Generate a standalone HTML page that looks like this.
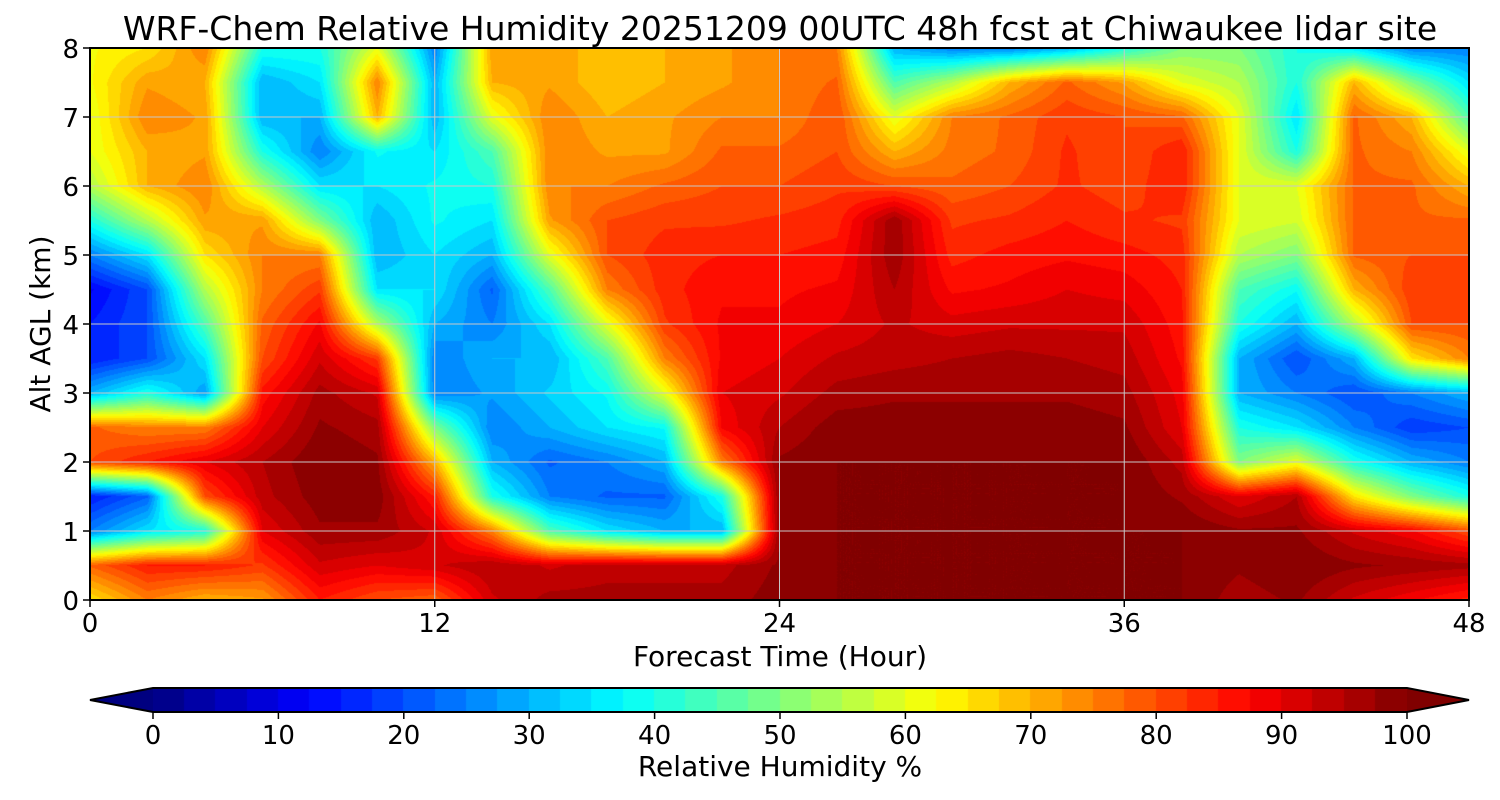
<!DOCTYPE html>
<html><head><meta charset="utf-8">
<style>
body{margin:0;background:#fff;width:1500px;height:800px;overflow:hidden;font-family:"DejaVu Sans","Liberation Sans",sans-serif;}
#wrap{position:relative;width:1500px;height:800px;}
canvas{position:absolute;}
svg{position:absolute;left:0;top:0;}
</style></head>
<body>
<div id="wrap">
<canvas id="plot" width="1379" height="552" style="left:90px;top:48px"></canvas>
<canvas id="cbar" width="1254" height="24" style="left:153px;top:688px"></canvas>
<svg id="svg" width="1500" height="800"></svg>
</div>
<script>
// ---- data ----
const times = [0,2,4,6,8,10,12,14,16,18,20,22,24,26,28,30,32,34,36,38,40,42,44,46,48];
const alts = [0,0.5,1,1.5,2,2.5,3,3.5,4,4.5,5,5.5,6,6.5,7,7.5,8];
// rh[column for each time] = values from alt 0 to 8
const rh = [
[65,78,25,15,80,78,30,15,15,12,25,40,55,60,60,62,62],
[75,85,35,22,85,75,40,20,20,20,35,55,70,70,75,72,65],
[70,85,40,80,90,75,28,35,45,55,65,72,75,72,72,70,75],
[72,82,90,94,95,90,86,80,78,75,75,72,55,40,30,30,40],
[85,92,97,99,100,98,96,92,88,82,75,50,35,25,30,35,40],
[80,90,97,99,98,96,92,82,55,35,30,30,35,38,70,75,60],
[78,92,92,85,70,50,25,25,30,35,35,38,38,35,30,30,25],
[92,95,75,40,30,25,28,30,25,22,30,35,40,45,60,70,72],
[96,92,45,25,22,30,33,30,35,45,60,72,75,75,75,72,72],
[96,94,35,22,25,35,38,45,60,75,80,80,75,72,70,68,68],
[96,94,30,22,30,38,60,75,82,84,84,82,78,72,72,70,70],
[96,94,30,40,75,88,90,88,88,87,85,82,80,78,75,72,72],
[99,98,98,98,98,95,92,90,88,87,85,83,80,78,75,75,75],
[100,100,100,100,100,99,96,93,90,88,86,84,82,80,80,78,75],
[100,100,100,100,100,99,97,94,93,95,97,97,80,70,60,45,30],
[100,100,100,100,100,99,97,95,91,87,84,82,78,76,75,55,25],
[100,100,100,100,100,99,97,96,92,88,86,83,80,78,78,70,25],
[100,100,100,100,100,99,97,95,92,90,87,85,83,83,82,78,30],
[100,100,100,100,100,98,96,94,92,89,86,83,81,80,80,72,40],
[100,100,100,97,94,90,89,87,86,85,84,82,85,85,78,60,50],
[96,98,98,90,50,40,30,30,40,45,55,60,60,60,60,55,50],
[98,100,98,95,60,35,25,20,30,38,50,58,60,40,35,40,40],
[92,98,92,65,40,25,20,30,55,70,78,78,78,78,78,70,35],
[88,97,88,50,30,18,25,65,80,82,80,78,78,75,70,50,25],
[84,96,80,40,25,20,30,75,80,82,80,78,70,60,45,35,25]
];
const xTicks = [0,12,24,36,48];
const yTicks = [0,1,2,3,4,5,6,7,8];
const cbTicks = [0,10,20,30,40,50,60,70,80,90,100];

// ---- geometry ----
const PX=90, PY=48, PW=1379, PH=552;
const xS = t => PX + (t-0)/(48-0)*PW;
const yS = a => PY + PH - (a-0)/(8-0)*PH;
const CBX=153, CBW=1254;
const cS = v => CBX + v/100*CBW;

function jet(v){
  const x=Math.max(0,Math.min(1,v/100));
  const c=f=>Math.round(255*Math.max(0,Math.min(1,f)));
  return [c(1.5-Math.abs(4*x-3)), c(1.5-Math.abs(4*x-2)), c(1.5-Math.abs(4*x-1))];
}
function q(v){ return Math.min(100,Math.floor(v/2.5)*2.5+1.25); }

function valAt(t,a){
  let i=0; while(i<times.length-2 && t>times[i+1]) i++;
  let j=0; while(j<alts.length-2 && a>alts[j+1]) j++;
  const fx=(t-times[i])/(times[i+1]-times[i]);
  const fy=(a-alts[j])/(alts[j+1]-alts[j]);
  const v00=rh[i][j],v10=rh[i+1][j],v01=rh[i][j+1],v11=rh[i+1][j+1];
  return v00*(1-fx)*(1-fy)+v10*fx*(1-fy)+v01*(1-fx)*fy+v11*fx*fy;
}
const pc=document.getElementById('plot').getContext('2d');
const img=pc.createImageData(PW,PH);
for(let py=0;py<PH;py++){
  const a=8*(1-(py+0.5)/PH);
  for(let px=0;px<PW;px++){
    const t=48*(px+0.5)/PW;
    const col=jet(q(valAt(t,a)));
    const k=(py*PW+px)*4;
    img.data[k]=col[0];img.data[k+1]=col[1];img.data[k+2]=col[2];img.data[k+3]=255;
  }
}
pc.putImageData(img,0,0);

const cc=document.getElementById('cbar').getContext('2d');
for(let v=0;v<100;v+=2.5){
  const col=jet(v+1.25);
  cc.fillStyle=`rgb(${col})`;
  cc.fillRect(Math.floor(v/100*CBW),0,Math.ceil(2.5/100*CBW)+1,24);
}

// ---- svg overlay ----
const svg=document.getElementById('svg');
const NS='http://www.w3.org/2000/svg';
function mk(tag,attrs,parent){const e=document.createElementNS(NS,tag);for(const k in attrs)e.setAttribute(k,attrs[k]);(parent||svg).appendChild(e);return e;}
function txt(x,y,s,size,anchor,name){
  const e=mk('text',{x:x,y:y,'font-size':size,'text-anchor':anchor||'middle',fill:'#000','font-family':'DejaVu Sans, Liberation Sans, sans-serif'});
  e.textContent=s;
  
  
  return e;
}
xTicks.forEach(t=>{
  const l=mk('line',{x1:xS(t),x2:xS(t),y1:PY,y2:PY+PH,stroke:'#c8c8c8','stroke-width':1});
  
  
  const tk=mk('line',{x1:xS(t),x2:xS(t),y1:PY+PH,y2:PY+PH+7,stroke:'#000','stroke-width':1.5});
  
  
  txt(xS(t),PY+PH+32,String(t),26,'middle','x-tick-label');
});
yTicks.forEach(a=>{
  const l=mk('line',{x1:PX,x2:PX+PW,y1:yS(a),y2:yS(a),stroke:'#c8c8c8','stroke-width':1});
  
  
  const tk=mk('line',{x1:PX-7,x2:PX,y1:yS(a),y2:yS(a),stroke:'#000','stroke-width':1.5});
  
  
  txt(PX-11,yS(a)+10,String(a),26,'end','y-tick-label');
});
const fr=mk('rect',{x:PX,y:PY,width:PW,height:PH,fill:'none',stroke:'#000','stroke-width':2});


txt(780,40,'WRF-Chem Relative Humidity 20251209 00UTC 48h fcst at Chiwaukee lidar site',33,'middle','chart-title');
txt(780,666,'Forecast Time (Hour)',28,'middle','x-axis-title');
const yt=txt(0,0,'Alt AGL (km)',28,'middle','y-axis-title');
yt.setAttribute('transform','translate(50,324) rotate(-90)');

const lo=jet(0), hi=jet(100);
const e1=mk('polygon',{points:`${CBX},688 ${CBX},712 90,700`,fill:`rgb(${lo})`});


const e2=mk('polygon',{points:`${CBX+CBW},688 ${CBX+CBW},712 1469,700`,fill:`rgb(${hi})`});


const ol=mk('polygon',{points:`90,700 ${CBX},688 ${CBX+CBW},688 1469,700 ${CBX+CBW},712 ${CBX},712`,fill:'none',stroke:'#000','stroke-width':2});


cbTicks.forEach(v=>{
  const tk=mk('line',{x1:cS(v),x2:cS(v),y1:712,y2:719,stroke:'#000','stroke-width':1.5});
  
  
  txt(cS(v),744,String(v),26,'middle','colorbar-tick-label');
});
txt(780,776,'Relative Humidity %',28,'middle','colorbar-title');
</script>
</body></html>
